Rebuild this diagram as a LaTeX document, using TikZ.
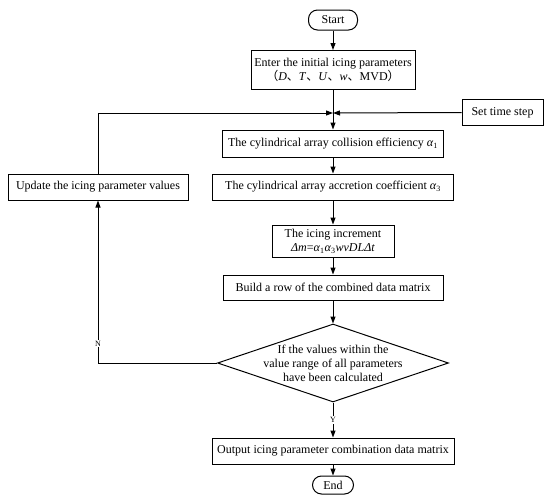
\documentclass[tikz,border=0pt]{standalone}
\usepackage{fontspec}
\setmainfont{Liberation Serif}
\newfontfamily\cjk{Noto Sans CJK SC}
\usetikzlibrary{shapes.geometric,arrows.meta}
\begin{document}
\begin{tikzpicture}[x=1pt,y=-1pt,
  every node/.style={font=\fontsize{12}{14}\selectfont},
  box/.style={draw,line width=1pt,rectangle,inner sep=2pt,align=center,minimum height=26pt},
  term/.style={draw,line width=1pt,rectangle,rounded corners=9pt,inner sep=1pt},
  flow/.style={line width=1pt,-{Triangle[length=7pt,width=5pt]}},
  yn/.style={fill=white,inner sep=1pt,font=\fontsize{8}{9}\selectfont}]
\useasboundingbox (0,0) rectangle (550,498);
\node[term,minimum width=49pt,minimum height=20pt] (start) at (333,20) {Start};
\node[box,minimum width=164pt,minimum height=39pt] (enter) at (333,70) {Enter the initial icing parameters\\{\cjk （}\textit{D}{\cjk 、}\textit{T}{\cjk 、}\textit{U}{\cjk 、}\textit{w}{\cjk 、}MVD{\cjk ）}};
\coordinate (j) at (333,113);
\node[box,minimum width=81pt] (set) at (502.5,112.5) {Set time step};
\node[box,minimum width=221pt,minimum height=27pt] (coll) at (333,143.5) {The cylindrical array collision efficiency \textit{α}\textsubscript{1}};
\node[box,minimum width=241pt] (accr) at (333,187) {The cylindrical array accretion coefficient \textit{α}\textsubscript{3}};
\node[box,minimum width=180pt] (upd) at (98,187) {Update the icing parameter values};
\node[box,minimum width=122pt,minimum height=32pt,inner sep=1pt] (incr) at (333,241) {The icing increment\\\textit{Δm}=\textit{α}\textsubscript{1}\textit{α}\textsubscript{3}\textit{wvDLΔt}};
\node[box,minimum width=220pt,minimum height=25pt] (build) at (333,287.5) {Build a row of the combined data matrix};
\node[draw,line width=1pt,diamond,aspect=2.96,minimum width=231pt,minimum height=78pt,inner sep=0pt,
  label={[align=center,font=\fontsize{12}{14}\selectfont]center:If the values within the\\value range of all parameters\\have been calculated}] (dec) at (333,363) {};
\node[box,minimum width=242pt] (out) at (333,451) {Output icing parameter combination data matrix};
\node[term,minimum width=41pt,minimum height=18pt] (end) at (333,485) {End};
\coordinate (nl) at (98,363);
\coordinate (ul) at (98,113);
\draw[flow] (start) -- (enter);
\draw[flow] (enter) -- (coll);
\draw[flow] (coll) -- (accr);
\draw[flow] (accr) -- (incr);
\draw[flow] (incr) -- (build);
\draw[flow] (build) -- (dec.north);
\draw[flow] (dec.south) -- node[yn,pos=0.5]{Y} (out);
\draw[flow] (out) -- (end);
\draw[flow] (set.west) -- (j);
\draw[flow] (dec.west) -- (nl) -- node[yn,pos=0.12]{N} (upd.south);
\draw[flow] (upd.north) -- (ul) -- (j);
\end{tikzpicture}
\end{document}
